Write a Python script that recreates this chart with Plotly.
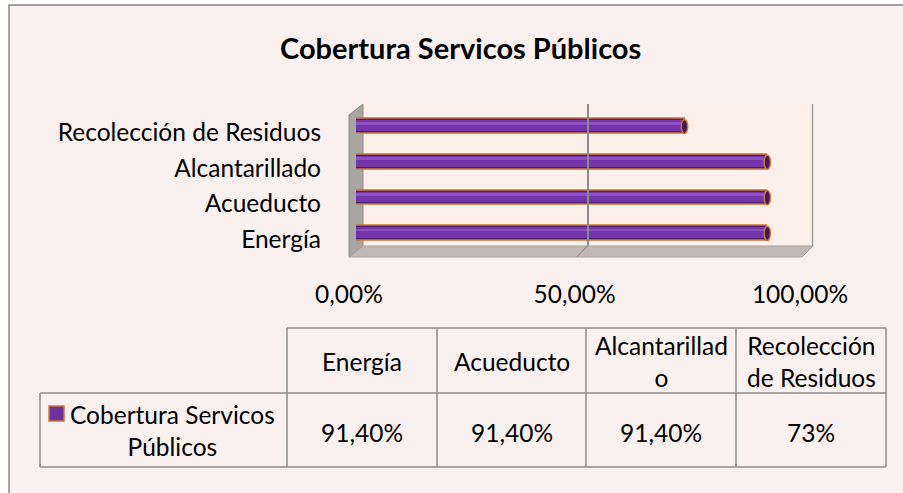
import plotly.graph_objects as go

# ---------------- data ----------------
categories = ["Energía", "Acueducto", "Alcantarillado", "Recolección de Residuos"]
coverage = [0.914, 0.914, 0.914, 0.73]
series_name = "Cobertura Servicos Públicos"
x_tick_values = [0, 0.5, 1.0]
x_tick_labels = ["0,00%", "50,00%", "100,00%"]
table_headers = ["Energía", "Acueducto", "Alcantarillad<br>o", "Recolección<br>de Residuos"]
table_values = ["91,40%", "91,40%", "91,40%", "73%"]
legend_label = "Cobertura Servicos<br>Públicos"
title_text = "Cobertura Servicos Públicos"

# ---------------- geometry helpers ----------------
W, H = 903, 493
def px(x):
    return x / W
def py(y):
    return 1 - y / H

FONT = "Lato"
FS = 24.5
BLACK = "#000000"
GRID = "#8C8C8C"
ORANGE = "#C8783A"

fig = go.Figure()

# cylinder-like bars: three overlaid layers for shading
fig.add_trace(go.Bar(y=categories, x=coverage, orientation="h", width=0.42,
                     marker=dict(color="#4E2072", line=dict(color=ORANGE, width=1.5)),
                     name=series_name, showlegend=False, hoverinfo="x+y"))
fig.add_trace(go.Bar(y=categories, x=coverage, orientation="h", width=0.30, offset=-0.12,
                     marker=dict(color="#7434AA", line=dict(width=0)),
                     showlegend=False, hoverinfo="skip"))
fig.add_trace(go.Bar(y=categories, x=coverage, orientation="h", width=0.08, offset=0.06,
                     marker=dict(color="#8E4EC4", line=dict(width=0)),
                     showlegend=False, hoverinfo="skip"))

# invisible helper traces so that the auxiliary axes are rendered
fig.add_trace(go.Scatter(x=[0, 1], y=[0, 1], xaxis="x2", yaxis="y2", mode="markers",
                         marker=dict(opacity=0), showlegend=False, hoverinfo="skip"))
fig.add_trace(go.Scatter(x=[0, 1], y=[categories[0], categories[0]], xaxis="x3", yaxis="y",
                         mode="markers", marker=dict(opacity=0), showlegend=False,
                         hoverinfo="skip"))

shapes = []
# chart area border / background
shapes.append(dict(type="rect", xref="paper", yref="paper", x0=px(9), x1=px(930),
                   y0=py(520), y1=py(5), fillcolor="#F9F1F0",
                   line=dict(color="#868686", width=1.5), layer="below"))
# back wall
shapes.append(dict(type="rect", xref="paper", yref="paper", x0=px(363), x1=px(812),
                   y0=py(246), y1=py(104), fillcolor="#FDEFE9", line=dict(width=0),
                   layer="below"))
# left wall
shapes.append(dict(type="path", xref="paper", yref="paper",
                   path=f"M {px(349)} {py(115)} L {px(363)} {py(104)} L {px(363)} {py(246)} L {px(349)} {py(257)} Z",
                   fillcolor="#A9A5A3", line=dict(color="#8E8A88", width=1), layer="below"))
# floor
shapes.append(dict(type="path", xref="paper", yref="paper",
                   path=f"M {px(349)} {py(257)} L {px(363)} {py(246)} L {px(813)} {py(246)} L {px(802)} {py(257)} Z",
                   fillcolor="#C1B9B5", line=dict(color="#A8A09C", width=1), layer="below"))
# floor grid segment (50%) and right edge of back wall
shapes.append(dict(type="line", xref="paper", yref="paper", x0=px(587), y0=py(246),
                   x1=px(577), y1=py(257), line=dict(color="#8E8884", width=1), layer="below"))
shapes.append(dict(type="line", xref="paper", yref="paper", x0=px(812.5), y0=py(104),
                   x1=px(812.5), y1=py(246), line=dict(color="#A0A0A0", width=1.5), layer="below"))

# cylinder end caps (drawn from the data values)
for i, v in enumerate(coverage):
    shapes.append(dict(type="circle", xref="x", yref="y", x0=v - 0.007, x1=v + 0.007,
                       y0=i - 0.2, y1=i + 0.2, fillcolor="#3E1858",
                       line=dict(color=ORANGE, width=1.5), layer="above"))

# ---------------- data table ----------------
col_edges = [287, 437, 586, 736, 886]
top_y, mid_y, bot_y = 328, 393, 467
tl = dict(color=GRID, width=1.5)
shapes.append(dict(type="line", xref="paper", yref="paper", x0=px(col_edges[0]), x1=px(col_edges[-1]),
                   y0=py(top_y), y1=py(top_y), line=tl))
shapes.append(dict(type="line", xref="paper", yref="paper", x0=px(40), x1=px(col_edges[-1]),
                   y0=py(mid_y), y1=py(mid_y), line=tl))
shapes.append(dict(type="line", xref="paper", yref="paper", x0=px(40), x1=px(col_edges[-1]),
                   y0=py(bot_y), y1=py(bot_y), line=tl))
shapes.append(dict(type="line", xref="paper", yref="paper", x0=px(40), x1=px(40),
                   y0=py(mid_y), y1=py(bot_y), line=tl))
for ce in col_edges:
    shapes.append(dict(type="line", xref="paper", yref="paper", x0=px(ce), x1=px(ce),
                       y0=py(top_y), y1=py(bot_y), line=tl))
# legend key
shapes.append(dict(type="rect", xref="paper", yref="paper", x0=px(49), x1=px(64),
                   y0=py(421), y1=py(406), fillcolor="#7030A0",
                   line=dict(color=ORANGE, width=1.5)))

annotations = []
annotations.append(dict(text=f"<b>{title_text}</b>", xref="paper", yref="paper",
                        x=px(460), y=py(47), xanchor="center", yanchor="middle",
                        showarrow=False, font=dict(family=FONT, size=29, color=BLACK)))
tfont = dict(family=FONT, size=FS, color=BLACK)
for j, (hdr, val) in enumerate(zip(table_headers, table_values)):
    cx = (col_edges[j] + col_edges[j + 1]) / 2
    annotations.append(dict(text=hdr, xref="paper", yref="paper", x=px(cx), y=py(361),
                            xanchor="center", yanchor="middle", showarrow=False,
                            align="center", font=tfont))
    annotations.append(dict(text=val, xref="paper", yref="paper", x=px(cx), y=py(432),
                            xanchor="center", yanchor="middle", showarrow=False,
                            font=tfont))
annotations.append(dict(text=legend_label, xref="paper", yref="paper", x=px(172), y=py(430),
                        xanchor="center", yanchor="middle", showarrow=False, align="center",
                        font=tfont))

fig.update_layout(
    width=W, height=H,
    autosize=False,
    margin=dict(l=0, r=0, t=0, b=0, pad=0),
    paper_bgcolor="#FFFFFF",
    plot_bgcolor="rgba(0,0,0,0)",
    barmode="overlay",
    bargap=0,
    showlegend=False,
    font=dict(family=FONT, size=FS, color=BLACK),
    xaxis=dict(domain=[px(356), px(806)], range=[0, 1], showgrid=False, zeroline=False,
               showticklabels=False, showline=False, fixedrange=True, automargin=False),
    yaxis=dict(domain=[py(251.1), py(108.7)], range=[-0.5, 3.5], type="category",
               categoryorder="array", categoryarray=categories,
               showgrid=False, zeroline=False, showline=False, ticks="",
               ticklabelstandoff=34, ticklabelshift=6, automargin=False,
               tickfont=dict(family=FONT, size=FS, color=BLACK), fixedrange=True),
    xaxis2=dict(domain=[px(363), px(812)], range=[0, 1], anchor="y2",
                tickvals=[0.5], showticklabels=False, showgrid=True, gridcolor=GRID,
                gridwidth=1.5, zeroline=False, showline=False, ticks="", fixedrange=True,
                automargin=False),
    yaxis2=dict(domain=[py(246), py(104)], range=[0, 1], anchor="x2", visible=False,
                showgrid=False, fixedrange=True, automargin=False),
    xaxis3=dict(domain=[px(349), px(800)], range=[0, 1], anchor="free", position=py(257),
                tickvals=x_tick_values, ticktext=x_tick_labels, showgrid=False,
                zeroline=False, showline=False, ticks="", ticklabelstandoff=20,
                automargin=False,
                tickfont=dict(family=FONT, size=FS, color=BLACK), fixedrange=True),
    shapes=shapes,
    annotations=annotations,
)

fig.write_html(
    "out.html",
    config={"displayModeBar": False},
    post_script="document.body.style.margin='0px';document.documentElement.style.overflow='hidden';document.body.style.overflow='hidden';",
)
